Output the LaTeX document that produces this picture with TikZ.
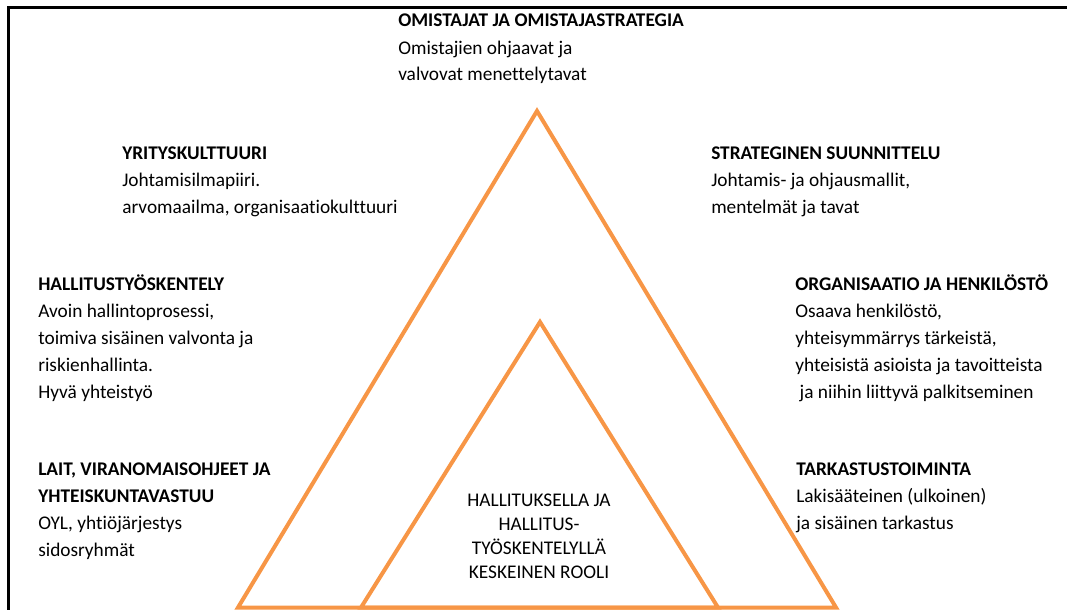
\documentclass[tikz,border=0pt]{standalone}
\usepackage{fontspec}
\setmainfont{Carlito}[Ligatures=CommonOff]
\definecolor{pyramid}{RGB}{247,150,70}
\tikzset{
  infotext/.style={anchor=base west, align=left, inner sep=0pt,
    font=\fontsize{14.5}{20.25}\selectfont},
  coretext/.style={anchor=base, align=center, inner sep=0pt,
    font=\fontsize{14.5}{17.8}\selectfont},
  pyramidline/.style={draw=pyramid, line width=3pt, line join=miter}
}
\begin{document}
\begin{tikzpicture}[x=0.75pt,y=-0.75pt]
    \useasboundingbox (0,0) rectangle (1067,610);
    % frame
    \draw[line width=2.25pt] (8,612) -- (8,8) -- (1069,8);
    % triangles
    \coordinate (outerL) at (238,607.5);
    \coordinate (outerT) at (537,111);
    \coordinate (outerR) at (836,607.5);
    \coordinate (innerL) at (361,607.5);
    \coordinate (innerT) at (540,322);
    \coordinate (innerR) at (718,607.5);
    \draw[pyramidline] (outerL) -- (outerT) -- (outerR) -- cycle;
    \draw[pyramidline] (innerL) -- (innerT) -- (innerR) -- cycle;
    % texts (anchored at the last line)
    \node[infotext] (owners) at (398,81)
        {\textbf{OMISTAJAT JA OMISTAJASTRATEGIA}\\Omistajien ohjaavat ja\\valvovat menettelytavat};
    \node[infotext] (culture) at (122,213)
        {\textbf{YRITYSKULTTUURI}\\Johtamisilmapiiri.\\arvomaailma, organisaatiokulttuuri};
    \node[infotext] (boardwork) at (38,398)
        {\textbf{HALLITUSTYÖSKENTELY}\\Avoin hallintoprosessi,\\toimiva sisäinen valvonta ja\\riskienhallinta.\\Hyvä yhteistyö};
    \node[infotext] (laws) at (38,556)
        {\textbf{LAIT, VIRANOMAISOHJEET JA}\\\textbf{YHTEISKUNTAVASTUU}\\OYL, yhtiöjärjestys\\sidosryhmät};
    \node[infotext] (strategy) at (711,213)
        {\textbf{STRATEGINEN SUUNNITTELU}\\Johtamis- ja ohjausmallit,\\mentelmät ja tavat};
    \node[infotext] (staff) at (795,398)
        {\textbf{ORGANISAATIO JA HENKILÖSTÖ}\\Osaava henkilöstö,\\yhteisymmärrys tärkeistä,\\yhteisistä asioista ja tavoitteista\\\hspace*{0.23em}ja niihin liittyvä palkitseminen};
    \node[infotext] (audit) at (796,529)
        {\textbf{TARKASTUSTOIMINTA}\\Lakisääteinen (ulkoinen)\\ja sisäinen tarkastus};
    \node[coretext] (core) at (539,578)
        {HALLITUKSELLA JA\\HALLITUS-\\TYÖSKENTELYLLÄ\\KESKEINEN ROOLI};
\end{tikzpicture}
\end{document}
